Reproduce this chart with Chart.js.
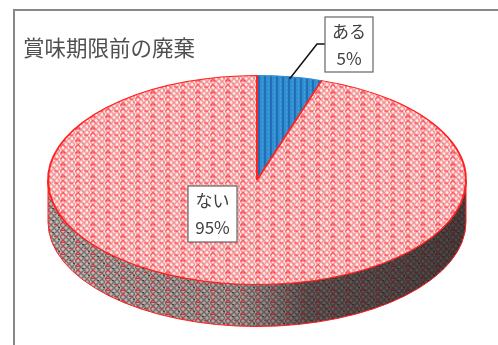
<!DOCTYPE html>
<html>
<head>
<meta charset="utf-8">
<script src="https://cdn.jsdelivr.net/npm/chart.js@4"></script>
<style>
    body { margin: 0; background: #fff; overflow: hidden; }
    #frame { position: absolute; left: 13px; top: 9px; width: 490px; height: 340px; border-left: 2px solid #888; border-top: 2px solid #888; }
    #chart { position: absolute; left: 0; top: 0; }
</style>
</head>
<body>
<div id="frame"></div>
<canvas id="chart" width="498" height="345"></canvas>
<script>
const chartTitle = '賞味期限前の廃棄';
const categories = ['ある', 'ない'];
const shares = [5, 95];
const labelBoxes = [
    { left: 325, top: 17, right: 373, bottom: 72 },
    { left: 188, top: 186, right: 237, bottom: 242 }
];

const centerY = 180;
const squash = 0.5;
const depth = 42;
const pieRadius = 209;

// small repeating fills, like the hatch fills of the original
function makeWeave(base, soft, strong, tick) {
    const tile = document.createElement('canvas');
    tile.width = 15;
    tile.height = 12;
    const c = tile.getContext('2d');
    c.fillStyle = base;
    c.fillRect(0, 0, 15, 12);
    c.lineWidth = 1.4;
    for (let row = 0; row < 4; row++) {
        for (let col = 0; col < 5; col++) {
            const x = col * 3;
            const y = row * 3;
            const rising = (col + row) % 2 === 0;
            c.strokeStyle = (row % 2 === 0 && col < 2) ? strong : soft;
            c.beginPath();
            c.moveTo(x, rising ? y + 3 : y);
            c.lineTo(x + 3, rising ? y : y + 3);
            c.stroke();
        }
    }
    c.fillStyle = strong;
    c.fillRect(1, 2, 4, 1);
    c.fillRect(9, 8, 4, 1);
    c.fillStyle = tick;
    c.fillRect(7, 4, 2, 1);
    c.fillRect(13, 11, 2, 1);
    return c;
}

function makeStripes() {
    const tile = document.createElement('canvas');
    tile.width = 6;
    tile.height = 4;
    const c = tile.getContext('2d');
    c.fillStyle = '#2f8fd2';
    c.fillRect(0, 0, 6, 4);
    c.fillStyle = '#1f6fb4';
    c.fillRect(0, 0, 2, 4);
    c.fillStyle = '#6fa8cc';
    c.fillRect(4, 1, 1, 1);
    return c;
}

const ctx = document.getElementById('chart').getContext('2d');

const redTop = ctx.createPattern(makeWeave('#fff0ec', '#f88a8e', '#f8404c', '#8fa0a0').canvas, 'repeat');
const blueTop = ctx.createPattern(makeStripes().canvas, 'repeat');
const wallFill = ctx.createPattern(makeWeave('#c8c6c0', '#7f7472', '#d43a48', '#444').canvas, 'repeat');

// keep the fills at their real size while the top surface is squashed
const unsquash = new DOMMatrix().scale(1, 1 / squash);
redTop.setTransform(unsquash);
blueTop.setTransform(unsquash);

const tiltPlugin = {
    id: 'tilt',
    beforeDatasetsDraw(chart) {
        const g = chart.ctx;
        const arcs = chart.getDatasetMeta(0).data;

        // side wall, only the front half of the pie shows
        arcs.forEach(arc => {
            const start = Math.max(arc.startAngle, 0);
            const end = Math.min(arc.endAngle, Math.PI);
            if (end <= start) return;
            const r = arc.outerRadius;
            g.beginPath();
            g.ellipse(arc.x, centerY, r, r * squash, 0, start, end);
            g.ellipse(arc.x, centerY + depth, r, r * squash, 0, end, start, true);
            g.closePath();
            g.fillStyle = wallFill;
            g.fill();
            const shade = g.createLinearGradient(arc.x - r, 0, arc.x + r, 0);
            shade.addColorStop(0, 'rgba(60,50,50,0.05)');
            shade.addColorStop(0.45, 'rgba(60,50,50,0.22)');
            shade.addColorStop(0.62, 'rgba(40,30,30,0.62)');
            shade.addColorStop(1, 'rgba(40,30,30,0.78)');
            g.fillStyle = shade;
            g.fill();
            g.strokeStyle = '#ff2020';
            g.lineWidth = 1;
            g.stroke();
        });

        g.save();
        g.translate(0, centerY);
        g.scale(1, squash);
        g.translate(0, -arcs[0].y);
    },
    afterDatasetsDraw(chart) {
        chart.ctx.restore();
    },
    afterDraw(chart) {
        const g = chart.ctx;
        const arc = chart.getDatasetMeta(0).data[0];
        const mid = (arc.startAngle + arc.endAngle) / 2;

        // leader line from the small slice to its label
        g.beginPath();
        g.moveTo(arc.x + arc.outerRadius * Math.cos(mid), centerY + arc.outerRadius * squash * Math.sin(mid) + 2);
        g.lineTo(317, 44);
        g.lineTo(labelBoxes[0].left, 44);
        g.strokeStyle = '#111';
        g.lineWidth = 1.5;
        g.stroke();

        g.textAlign = 'center';
        g.textBaseline = 'middle';
        g.font = '17px "Noto Sans CJK JP"';
        categories.forEach((name, i) => {
            const b = labelBoxes[i];
            g.fillStyle = '#fff';
            g.fillRect(b.left, b.top, b.right - b.left, b.bottom - b.top);
            g.strokeStyle = '#666';
            g.lineWidth = 1.2;
            g.strokeRect(b.left, b.top, b.right - b.left, b.bottom - b.top);
            g.fillStyle = '#404040';
            const cx = (b.left + b.right) / 2;
            g.fillText(name, cx, b.top + 15);
            g.fillText(shares[i] + '%', cx, b.top + 42);
        });
    }
};

new Chart(ctx, {
    type: 'pie',
    data: {
        labels: categories,
        datasets: [{
            data: shares,
            backgroundColor: [blueTop, redTop],
            borderColor: ['#2f8fd2', '#ff2020'],
            borderWidth: 2,
            radius: pieRadius,
            clip: false
        }]
    },
    options: {
        responsive: false,
        animation: false,
        layout: { padding: { left: 23, right: 7 } },
        plugins: {
            legend: { display: false },
            tooltip: { enabled: false },
            title: {
                display: true,
                text: chartTitle,
                align: 'start',
                color: '#505050',
                font: { family: '"Noto Sans CJK JP"', size: 21.5, weight: 'normal' },
                padding: { top: 35, bottom: 0 }
            }
        }
    },
    plugins: [tiltPlugin]
});
</script>
</body>
</html>
